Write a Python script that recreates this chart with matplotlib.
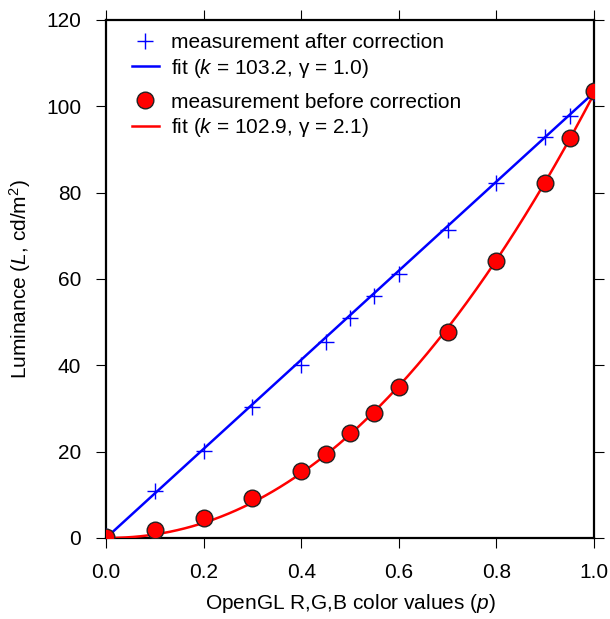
import numpy as np
import matplotlib.pyplot as plt

plt.rcParams['font.family'] = ['Liberation Sans', 'DejaVu Sans']
plt.rcParams['mathtext.fontset'] = 'custom'
plt.rcParams['mathtext.it'] = 'Liberation Sans:italic'
plt.rcParams['mathtext.rm'] = 'Liberation Sans'

# OpenGL colour values
p_after = [0.0, 0.1, 0.2, 0.3, 0.4, 0.45, 0.5, 0.55, 0.6, 0.7, 0.8, 0.9, 0.95, 1.0]
L_after = [0.5, 10.9, 20.2, 30.3, 40.1, 45.4, 51.0, 56.1, 61.2, 71.3, 82.2, 92.9, 97.8, 103.2]

p_before = [0.0, 0.1, 0.2, 0.3, 0.4, 0.45, 0.5, 0.55, 0.6, 0.7, 0.8, 0.9, 0.95, 1.0]
L_before = [0.3, 1.9, 4.6, 9.3, 15.5, 19.5, 24.3, 29.0, 35.0, 47.7, 64.2, 82.2, 92.7, 103.5]

# fit parameters (L = k * p^gamma)
k_after, g_after = 103.2, 1.0
k_before, g_before = 102.9, 2.1

pp = np.linspace(0, 1, 200)

fig = plt.figure(figsize=(6.1, 6.19), dpi=100)
ax = fig.add_axes([0.1738, 0.1309, 0.8, 0.8368])

h1, = ax.plot(p_after, L_after, '+', color='#0000ff', ms=11, mew=1.0, zorder=4)
h2, = ax.plot(pp, k_after * pp ** g_after, color='#0000ff', lw=1.8, zorder=3)
h3, = ax.plot(p_before, L_before, 'o', color='#ff0000', mec='#222222', mew=1.0,
              ms=12, zorder=5)
h4, = ax.plot(pp, k_before * pp ** g_before, color='#ff0000', lw=1.8, zorder=3)

ax.set_xlim(0, 1)
ax.set_ylim(0, 120)
ax.set_xticks([0, 0.2, 0.4, 0.6, 0.8, 1.0])
ax.set_yticks([0, 20, 40, 60, 80, 100, 120])
ax.xaxis.set_major_formatter(plt.FormatStrFormatter('%.1f'))
ax.tick_params(direction='out', length=7, width=0.8, labelsize=15,
               top=True, right=True, pad=11)
for s in ax.spines.values():
    s.set_linewidth(1.6)

ax.set_xlabel(r'OpenGL R,G,B color values ($p$)', fontsize=15, labelpad=7)
ax.set_ylabel(r'Luminance ($L$, cd/m$^2$)', fontsize=15, labelpad=9)

leg_kw = dict(loc='upper left', frameon=False, fontsize=15, handlelength=1.3,
              handletextpad=0.6, labelspacing=0.22, borderaxespad=0, borderpad=0)
leg1 = ax.legend([h1, h2], ['measurement after correction',
                            r'fit ($k$ = 103.2, γ = 1.0)'],
                 bbox_to_anchor=(0.053, 0.975), **leg_kw)
ax.add_artist(leg1)
ax.legend([h3, h4], ['measurement before correction',
                     r'fit ($k$ = 102.9, γ = 2.1)'],
          bbox_to_anchor=(0.053, 0.86), **leg_kw)

fig.savefig('out.png', dpi=100)
